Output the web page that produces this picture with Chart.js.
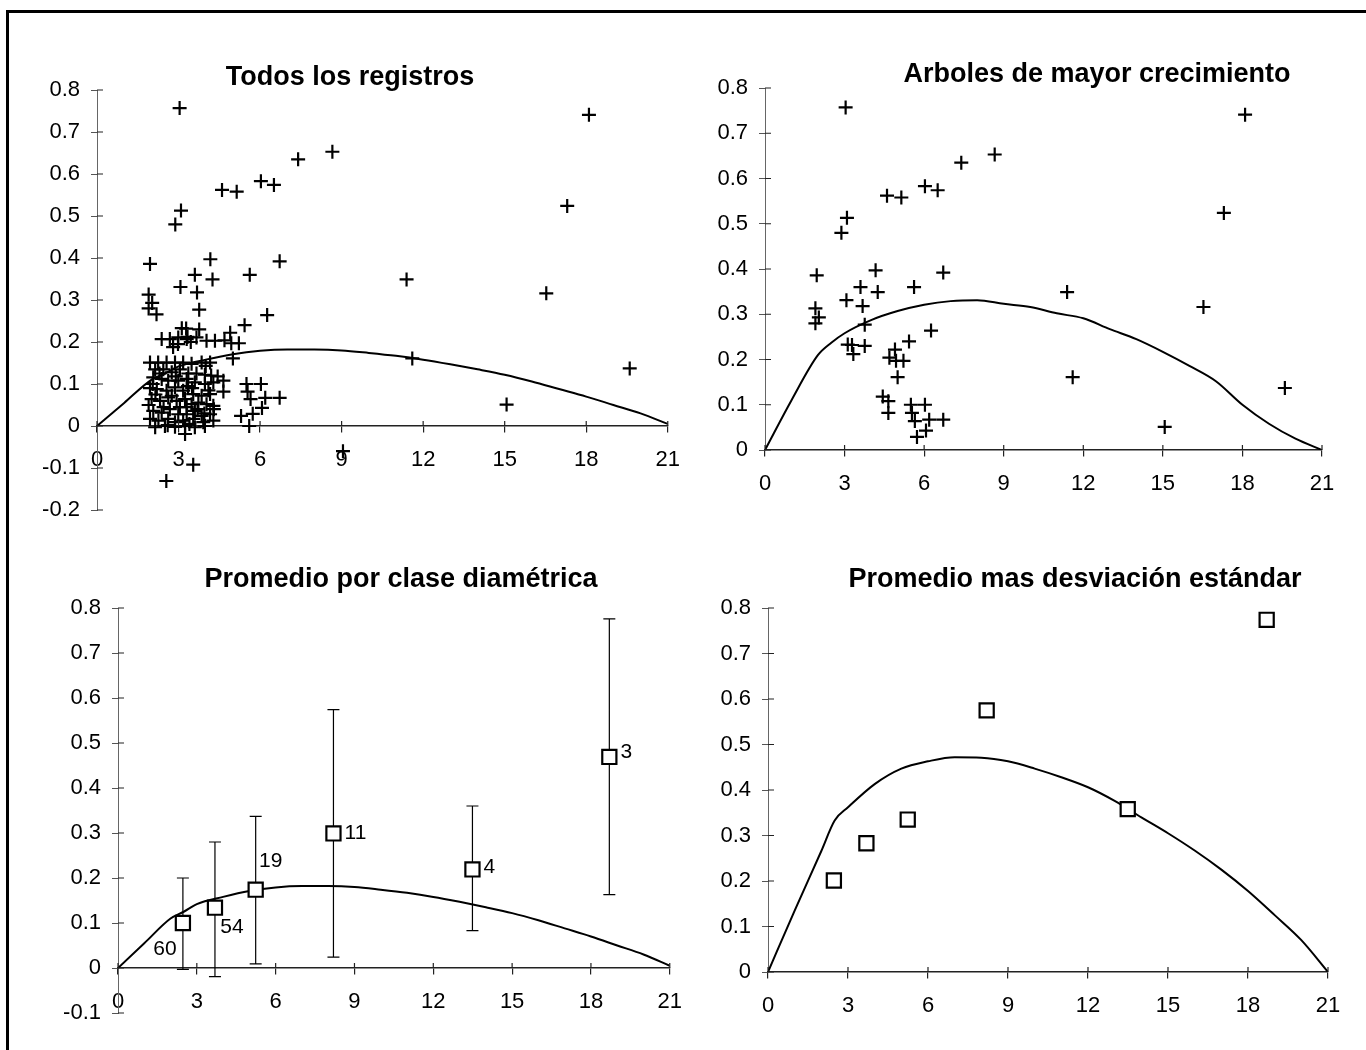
<!DOCTYPE html>
<html lang="es">
<head>
<meta charset="utf-8">
<title>Incremento por clase diamétrica</title>
<script src="https://cdn.jsdelivr.net/npm/chart.js@4.4.1/dist/chart.umd.min.js"></script>
<style>
  html, body { margin: 0; padding: 0; background: #fff; }
  #page { position: relative; width: 1366px; height: 1050px; overflow: hidden; }
  .panel { position: absolute; }
  .frame-top { position: absolute; left: 6px; top: 10px; width: 1360px; height: 3px; background: #000; }
  .frame-left { position: absolute; left: 6px; top: 10px; width: 3px; height: 1040px; background: #000; }
</style>
</head>
<body>
<div id="page">
  <canvas id="chartTodos" class="panel" width="695" height="545" style="left:0;top:0"></canvas>
  <canvas id="chartArboles" class="panel" width="683" height="525" style="left:683px;top:0"></canvas>
  <canvas id="chartPromedio" class="panel" width="697" height="525" style="left:0;top:525px"></canvas>
  <canvas id="chartDesviacion" class="panel" width="683" height="525" style="left:683px;top:525px"></canvas>
  <div class="frame-top"></div>
  <div class="frame-left"></div>
</div>
<script>
// curva de referencia (eje x comun)
const curveX = [0, 1, 2, 2.5, 3, 4, 5, 6, 7, 8, 9, 10, 11, 12, 13, 14, 15, 16, 17, 18, 19, 20, 21];
const avgCurveY = [0, 0.055, 0.11, 0.125, 0.142, 0.158, 0.171, 0.179, 0.182, 0.182, 0.18, 0.174, 0.167, 0.158, 0.147, 0.135, 0.122, 0.106, 0.088, 0.07, 0.05, 0.03, 0.005];
const growCurveY = [0, 0.11, 0.21, 0.237, 0.258, 0.287, 0.307, 0.321, 0.329, 0.331, 0.323, 0.316, 0.302, 0.291, 0.267, 0.245, 0.217, 0.186, 0.152, 0.1, 0.058, 0.025, 0];
const sdCurveY = [0, 0.135, 0.266, 0.333, 0.362, 0.413, 0.447, 0.463, 0.472, 0.471, 0.463, 0.447, 0.428, 0.406, 0.376, 0.34, 0.305, 0.267, 0.225, 0.178, 0.125, 0.07, 0];

// arboles de mayor crecimiento
const growX = [3.04, 18.1, 8.66, 7.4, 6.03, 6.51, 4.6, 5.14, 3.09, 2.88, 17.3, 4.17, 1.95, 6.72, 3.6, 4.25, 5.62, 11.39, 3.07, 3.68, 16.53, 1.9, 2.03, 1.9, 3.76, 6.26, 5.43, 3.12, 3.28, 3.76, 3.33, 4.9, 4.69, 4.94, 5.22, 5.0, 11.6, 19.6, 4.44, 4.65, 4.65, 5.5, 6.03, 5.54, 5.65, 6.19, 6.72, 5.73, 6.07, 15.07];
const growY = [0.757, 0.741, 0.653, 0.635, 0.583, 0.574, 0.562, 0.558, 0.513, 0.48, 0.524, 0.397, 0.386, 0.392, 0.36, 0.349, 0.36, 0.349, 0.331, 0.318, 0.316, 0.313, 0.293, 0.28, 0.277, 0.264, 0.24, 0.233, 0.232, 0.23, 0.212, 0.222, 0.204, 0.197, 0.197, 0.161, 0.161, 0.137, 0.118, 0.108, 0.082, 0.1, 0.1, 0.082, 0.064, 0.067, 0.067, 0.029, 0.043, 0.051];

// resto de los registros
const restX = [2.38, 2.68, 2.99, 3.66, 4.03, 4.34, 2.8, 2.98, 3.45, 1.95, 2.25, 2.56, 2.87, 3.17, 3.48, 3.85, 4.16, 2.14, 2.44, 2.75, 3.05, 3.36, 3.66, 3.97, 2.07, 2.38, 2.62, 2.99, 3.3, 3.6, 3.97, 4.28, 4.0, 2.2, 2.56, 2.87, 3.17, 3.54, 3.85, 4.16, 2.01, 2.32, 2.62, 2.93, 3.24, 3.48, 3.73, 4.03, 4.28, 2.07, 2.38, 2.68, 2.99, 3.3, 3.6, 3.85, 4.16, 1.95, 2.26, 2.62, 2.87, 3.17, 3.54, 3.91, 4.28, 2.14, 2.5, 2.87, 3.24, 3.6, 3.97, 3.24, 2.19, 9.05, 3.54, 2.55, 5.6, 5.3, 4.3, 4.1, 2.05, 3.3, 2.3, 2.9, 3.5, 2.45, 3.05, 3.7, 2.15, 2.75, 3.35, 3.95, 2.6, 3.4, 1.9, 1.95, 4.2, 3.3];
const restY = [0.207, 0.207, 0.211, 0.211, 0.203, 0.203, 0.188, 0.195, 0.2, 0.151, 0.151, 0.151, 0.151, 0.151, 0.148, 0.151, 0.151, 0.135, 0.135, 0.128, 0.135, 0.125, 0.125, 0.122, 0.116, 0.112, 0.108, 0.108, 0.112, 0.104, 0.1, 0.104, 0.143, 0.088, 0.084, 0.092, 0.084, 0.076, 0.072, 0.076, 0.064, 0.06, 0.068, 0.06, 0.064, 0.052, 0.056, 0.052, 0.048, 0.036, 0.032, 0.04, 0.028, 0.028, 0.036, 0.024, 0.028, 0.017, 0.013, 0.017, 0.009, 0.013, 0.017, 0.009, 0.013, -0.003, 0, -0.002, 0, -0.003, 0, -0.019, 0.266, -0.06, -0.092, -0.131, 0, 0.024, 0.04, 0.085, 0.1, 0.045, 0.125, 0.118, 0.09, 0.045, 0.045, 0.04, 0.075, 0.072, 0.095, 0.03, 0.002, 0.005, 0.05, 0.09, 0.12, 0.207];

// promedio por clase diametrica
const classX = [2.47, 3.69, 5.24, 8.2, 13.49, 18.7];
const classMean = [0.1, 0.134, 0.174, 0.299, 0.219, 0.469];
const classLow = [-0.003, -0.019, 0.009, 0.024, 0.083, 0.163];
const classHigh = [0.2, 0.28, 0.337, 0.574, 0.36, 0.776];
const classN = ['60', '54', '19', '11', '4', '3'];
const meanPlusSd = [0.201, 0.283, 0.335, 0.575, 0.358, 0.774];

const xTicks = [0, 3, 6, 9, 12, 15, 18, 21];

Chart.defaults.font.family = '"Liberation Sans", Arial, sans-serif';
Chart.defaults.color = '#000';

function pts(xs, ys) {
    return xs.map((x, i) => ({ x: x, y: ys[i] }));
}

// titulo de cada panel
const panelTitle = {
    id: 'panelTitle',
    afterDraw(chart, args, opts) {
        if (!opts.text) return;
        const ctx = chart.ctx;
        ctx.save();
        ctx.font = 'bold 27px "Liberation Sans", Arial, sans-serif';
        ctx.fillStyle = '#000';
        ctx.textAlign = 'center';
        ctx.textBaseline = 'middle';
        ctx.fillText(opts.text, opts.x, opts.y);
        ctx.restore();
    }
};

// marcas de division cruzadas (parte interior)
const innerTicks = {
    id: 'innerTicks',
    afterDraw(chart) {
        const { ctx, scales: { x, y } } = chart;
        const x0 = x.getPixelForValue(0);
        const y0 = y.getPixelForValue(0);
        ctx.save();
        ctx.strokeStyle = '#222';
        ctx.lineWidth = 1.2;
        ctx.beginPath();
        x.ticks.forEach(t => {
            const px = x.getPixelForValue(t.value);
            ctx.moveTo(px, y0);
            ctx.lineTo(px, y0 - 5);
        });
        y.ticks.forEach(t => {
            const py = y.getPixelForValue(t.value);
            ctx.moveTo(x0, py);
            ctx.lineTo(x0 + 6, py);
        });
        ctx.stroke();
        ctx.restore();
    }
};

Chart.register(panelTitle, innerTicks);

function makeOptions(p) {
    return {
        responsive: false,
        animation: false,
        events: [],
        layout: { padding: p.padding },
        plugins: {
            legend: { display: false },
            tooltip: { enabled: false },
            panelTitle: { text: p.title, x: p.titleX, y: p.titleY }
        },
        scales: {
            x: {
                type: 'linear',
                min: 0,
                max: 21,
                position: { y: 0 },
                afterFit: s => { s.height = 0; },
                afterBuildTicks: s => { s.ticks = xTicks.map(v => ({ value: v })); },
                ticks: { color: '#000', font: { size: 22 }, padding: 15, maxRotation: 0, autoSkip: false },
                grid: { drawOnChartArea: false, tickLength: 6, color: '#222', lineWidth: 1.2 },
                border: { color: '#222', width: 1.5 }
            },
            y: {
                type: 'linear',
                min: p.yMin,
                max: 0.8,
                afterFit: s => { s.width = 60; },
                ticks: {
                    stepSize: 0.1,
                    color: '#000',
                    font: { size: 22 },
                    padding: 11,
                    callback: v => String(Math.round(v * 10) / 10)
                },
                grid: { drawOnChartArea: false, tickLength: 6, color: '#555', lineWidth: 1 },
                border: { color: '#666', width: 1 }
            }
        }
    };
}

function curveDataset(ys) {
    return {
        data: pts(curveX, ys),
        showLine: true,
        borderColor: '#000',
        borderWidth: 2,
        pointRadius: 0,
        cubicInterpolationMode: 'monotone'
    };
}

function crossDataset(xs, ys) {
    return {
        data: pts(xs, ys),
        pointStyle: 'cross',
        pointRadius: 7,
        borderColor: '#000',
        borderWidth: 2.2,
        showLine: false
    };
}

function squareDataset(xs, ys) {
    return {
        data: pts(xs, ys),
        pointStyle: 'rect',
        pointRadius: 10,
        backgroundColor: '#fff',
        borderColor: '#000',
        borderWidth: 2.2,
        showLine: false
    };
}

// Todos los registros
new Chart(document.getElementById('chartTodos'), {
    type: 'scatter',
    data: {
        datasets: [
            crossDataset(growX, growY),
            crossDataset(restX, restY),
            curveDataset(avgCurveY)
        ]
    },
    options: makeOptions({
        yMin: -0.2,
        padding: { left: 37, right: 0, top: 90, bottom: 35 },
        title: 'Todos los registros', titleX: 350, titleY: 78
    })
});

// Arboles de mayor crecimiento
new Chart(document.getElementById('chartArboles'), {
    type: 'scatter',
    data: {
        datasets: [
            crossDataset(growX, growY),
            curveDataset(growCurveY)
        ]
    },
    options: makeOptions({
        yMin: 0,
        padding: { left: 22, right: 44, top: 88, bottom: 75 },
        title: 'Arboles de mayor crecimiento', titleX: 414, titleY: 75
    })
});

// barras de error y numero de arboles por clase
const labelOffsets = [[-18, 26], [17, 20], [15, -28], [22, 0], [17, -2], [17, -5]];
const errorBars = {
    id: 'errorBars',
    beforeDatasetsDraw(chart) {
        const { ctx, scales: { x, y } } = chart;
        ctx.save();
        ctx.strokeStyle = '#000';
        ctx.lineWidth = 1.2;
        ctx.beginPath();
        classX.forEach((cx, i) => {
            const px = x.getPixelForValue(cx);
            const lo = y.getPixelForValue(classLow[i]);
            const hi = y.getPixelForValue(classHigh[i]);
            ctx.moveTo(px, lo); ctx.lineTo(px, hi);
            ctx.moveTo(px - 6, lo); ctx.lineTo(px + 6, lo);
            ctx.moveTo(px - 6, hi); ctx.lineTo(px + 6, hi);
        });
        ctx.stroke();
        ctx.restore();
    },
    afterDatasetsDraw(chart) {
        const { ctx, scales: { x, y } } = chart;
        ctx.save();
        ctx.font = '21px "Liberation Sans", Arial, sans-serif';
        ctx.fillStyle = '#000';
        ctx.textAlign = 'center';
        ctx.textBaseline = 'middle';
        classX.forEach((cx, i) => {
            const px = x.getPixelForValue(cx) + labelOffsets[i][0];
            const py = y.getPixelForValue(classMean[i]) + labelOffsets[i][1];
            ctx.fillText(classN[i], px, py);
        });
        ctx.restore();
    }
};

// Promedio por clase diametrica
new Chart(document.getElementById('chartPromedio'), {
    type: 'scatter',
    data: {
        datasets: [
            squareDataset(classX, classMean),
            curveDataset(avgCurveY)
        ]
    },
    options: makeOptions({
        yMin: -0.1,
        padding: { left: 58, right: 0, top: 83, bottom: 37 },
        title: 'Promedio por clase diamétrica', titleX: 401, titleY: 55
    }),
    plugins: [errorBars]
});

// Promedio mas desviacion estandar
new Chart(document.getElementById('chartDesviacion'), {
    type: 'scatter',
    data: {
        datasets: [
            squareDataset(classX, meanPlusSd),
            curveDataset(sdCurveY)
        ]
    },
    options: makeOptions({
        yMin: 0,
        padding: { left: 25, right: 38, top: 83, bottom: 78 },
        title: 'Promedio mas desviación estándar', titleX: 392, titleY: 55
    })
});
</script>
</body>
</html>
